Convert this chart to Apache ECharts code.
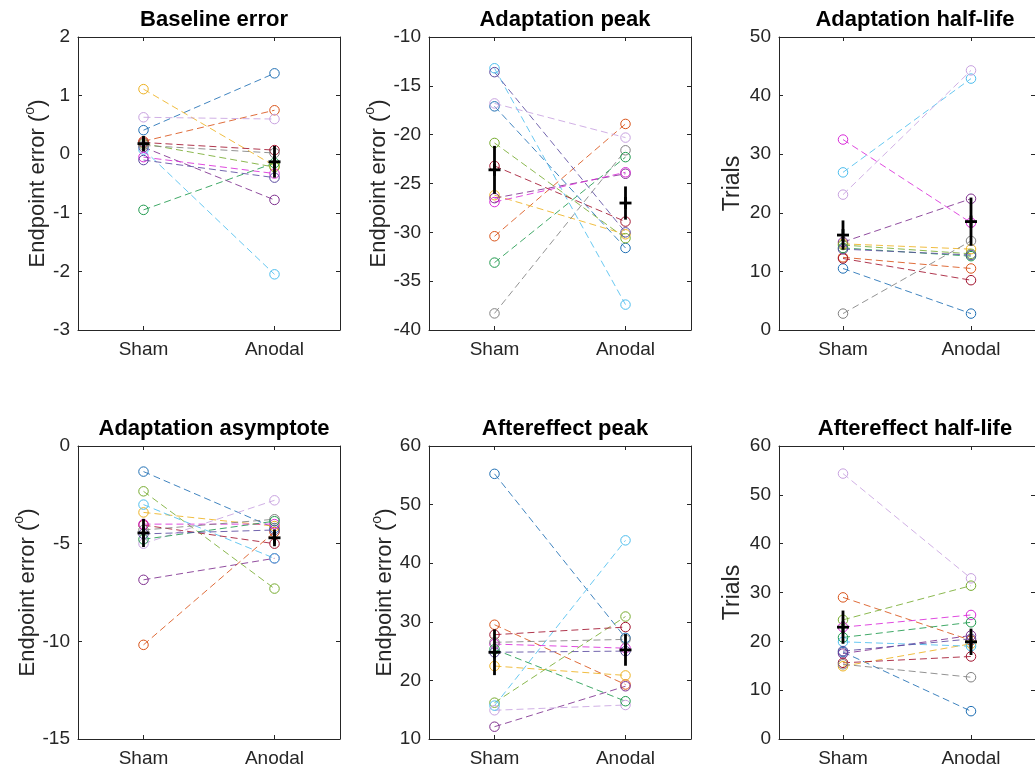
<!DOCTYPE html>
<html>
<head>
<meta charset="utf-8">
<script src="https://cdn.jsdelivr.net/npm/echarts@6/dist/echarts.min.js"></script>
<style>
  html, body { margin: 0; padding: 0; background: #fff; }
  #chart { width: 1035px; height: 771px; }
</style>
</head>
<body>
<div id="chart"></div>
<script>
// Conditions on the x axis
const conditions = ['Sham', 'Anodal'];

// One colour per participant (same order in every value array)
const subjectColors = [
  '#1f6fb4', '#d95319', '#edb120', '#7e2f8e', '#77ac30', '#4dbeee',
  '#a2142f', '#c8a2e0', '#d92bd9', '#808080', '#209a4e', '#5a4aa0'
];

const panelTitles = [
  'Baseline error', 'Adaptation peak', 'Adaptation half-life',
  'Adaptation asymptote', 'Aftereffect peak', 'Aftereffect half-life'
];
const panelUnits = ['deg', 'deg', 'trials', 'deg', 'deg', 'trials'];

// Axis limits and tick steps
const yMin  = [-3, -40, 0, -15, 10, 0];
const yMax  = [2, -10, 50, 0, 60, 60];
const yStep = [1, 5, 10, 5, 10, 10];

// Baseline error
const baselineSham   = [0.41, 0.22, 1.11, 0.12, 0.18, 0.08, 0.20, 0.63, -0.05, 0.15, -0.95, -0.10];
const baselineAnodal = [1.38, 0.75, -0.20, -0.78, -0.22, -2.05, 0.07, 0.60, -0.33, 0.02, -0.15, -0.40];
const baselineMean = [0.18, -0.13];
const baselineSem  = [0.13, 0.27];

// Adaptation peak
const adaptPeakSham   = [-17.1, -30.4, -26.2, -26.5, -20.85, -13.2, -23.2, -16.8, -26.9, -38.3, -33.1, -13.6];
const adaptPeakAnodal = [-31.6, -18.9, -30.2, -24.0, -30.6, -37.4, -28.9, -20.3, -23.85, -21.6, -22.3, -30.0];
const adaptPeakMean = [-23.6, -27.0];
const adaptPeakSem  = [2.45, 1.7];

// Adaptation half-life
const adaptHalfSham   = [10.5, 12.4, 14.7, 15.0, 14.5, 26.9, 12.2, 23.1, 32.5, 2.8, 14.0, 13.8];
const adaptHalfAnodal = [2.8, 10.5, 13.8, 22.4, 13.0, 42.9, 8.5, 44.3, 18.3, 15.2, 12.6, 12.8];
const adaptHalfMean = [16.2, 18.5];
const adaptHalfSem  = [2.5, 4.1];

// Adaptation asymptote
const asymSham   = [-1.31, -10.18, -3.4, -6.85, -2.32, -3.0, -4.05, -5.0, -4.0, -4.3, -4.78, -4.5];
const asymAnodal = [-4.2, -4.4, -4.1, -5.75, -7.3, -5.75, -5.0, -2.78, -4.0, -3.75, -3.85, -4.3];
const asymMean = [-4.45, -4.7];
const asymSem  = [0.72, 0.43];

// Aftereffect peak
const aftPeakSham   = [55.25, 29.5, 22.45, 12.1, 16.2, 15.7, 27.8, 14.9, 26.2, 26.5, 25.3, 24.8];
const aftPeakAnodal = [27.25, 19.3, 20.85, 19.0, 30.9, 43.9, 29.1, 15.8, 25.5, 27.0, 16.45, 25.0];
const aftPeakMean = [24.8, 25.2];
const aftPeakSem  = [3.9, 2.7];

// Aftereffect half-life
const aftHalfSham   = [17.8, 29.0, 14.9, 17.5, 24.4, 19.9, 15.6, 54.35, 22.9, 15.3, 20.8, 18.0];
const aftHalfAnodal = [5.7, 20.2, 19.5, 21.2, 31.4, 19.0, 16.9, 32.9, 25.4, 12.65, 23.9, 20.5];
const aftHalfMean = [22.9, 19.9];
const aftHalfSem  = [3.4, 2.7];

const panels = [
  { sham: baselineSham,  anodal: baselineAnodal,  mean: baselineMean,  sem: baselineSem },
  { sham: adaptPeakSham, anodal: adaptPeakAnodal, mean: adaptPeakMean, sem: adaptPeakSem },
  { sham: adaptHalfSham, anodal: adaptHalfAnodal, mean: adaptHalfMean, sem: adaptHalfSem },
  { sham: asymSham,      anodal: asymAnodal,      mean: asymMean,      sem: asymSem },
  { sham: aftPeakSham,   anodal: aftPeakAnodal,   mean: aftPeakMean,   sem: aftPeakSem },
  { sham: aftHalfSham,   anodal: aftHalfAnodal,   mean: aftHalfMean,   sem: aftHalfSem }
];

// Layout of the 2 x 3 axes (the third column runs past the right edge)
const FONT = '"Liberation Sans", Arial, Helvetica, sans-serif';
const AXIS_COLOR = '#262626';
const colLeft = [78, 429, 779];
const rowTop = [37, 446];
const plotW = 262;
const plotH = 293;
const nameGaps = [27, 34, 35, 27, 31, 35];

const chart = echarts.init(document.getElementById('chart'), null, { renderer: 'canvas' });

const grid = [], xAxis = [], yAxis = [], series = [], title = [];

const errorRichName = {
  t: { fontSize: 22, fontFamily: FONT, color: AXIS_COLOR, verticalAlign: 'bottom', lineHeight: 26 },
  s: { fontSize: 14, fontFamily: FONT, color: AXIS_COLOR, verticalAlign: 'top', lineHeight: 26 }
};

panels.forEach((p, i) => {
  const col = i % 3, row = Math.floor(i / 3);
  const left = colLeft[col], top = rowTop[row];
  const g = { left: left, top: top, height: plotH, containLabel: false };
  if (col === 2) g.right = 1035 - (left + plotW); else g.width = plotW;
  grid.push(g);

  title.push({
    text: panelTitles[i],
    left: left + plotW / 2,
    top: top - 33,
    textAlign: 'center',
    textStyle: { fontFamily: FONT, fontSize: 22, fontWeight: 'bold', color: '#000' }
  });

  const tick = { show: true, inside: true, length: 4, alignWithLabel: true, lineStyle: { color: AXIS_COLOR, width: 1 } };
  const line = { show: true, onZero: false, lineStyle: { color: AXIS_COLOR, width: 1 } };

  xAxis.push({
    gridIndex: i, type: 'category', data: conditions, position: 'bottom', boundaryGap: true,
    axisLine: line, axisTick: tick,
    axisLabel: { fontFamily: FONT, fontSize: 19, color: AXIS_COLOR, margin: 10 },
    splitLine: { show: false }
  });
  xAxis.push({
    gridIndex: i, type: 'category', data: conditions, position: 'top', boundaryGap: true,
    axisLine: line, axisTick: tick, axisLabel: { show: false }, splitLine: { show: false }
  });

  const isTrials = panelUnits[i] === 'trials';
  yAxis.push({
    gridIndex: i, type: 'value', position: 'left',
    min: yMin[i], max: yMax[i], interval: yStep[i],
    axisLine: line, axisTick: Object.assign({}, tick, { alignWithLabel: false }),
    axisLabel: { fontFamily: FONT, fontSize: 19, color: AXIS_COLOR, margin: 8 },
    splitLine: { show: false },
    name: isTrials ? 'Trials' : '{t|Endpoint error (}{s|o}{t|)}',
    nameLocation: 'middle',
    nameGap: nameGaps[i],
    nameTextStyle: isTrials
      ? { fontFamily: FONT, fontSize: 23, color: AXIS_COLOR }
      : { rich: errorRichName }
  });
  yAxis.push({
    gridIndex: i, type: 'value', position: 'right',
    min: yMin[i], max: yMax[i], interval: yStep[i],
    axisLine: line, axisTick: Object.assign({}, tick, { alignWithLabel: false }),
    axisLabel: { show: false }, splitLine: { show: false }
  });

  // One dashed line with open circles per participant
  p.sham.forEach((v, s) => {
    const c = subjectColors[s];
    series.push({
      type: 'line',
      xAxisIndex: 2 * i, yAxisIndex: 2 * i,
      data: [v, p.anodal[s]],
      symbol: 'circle', symbolSize: 9.5,
      itemStyle: { color: 'rgba(0,0,0,0)', borderColor: c, borderWidth: 1 },
      lineStyle: { color: c, width: 1, type: [7, 4], opacity: 0.85 },
      emphasis: { disabled: true },
      silent: true, z: 2
    });
  });

  // Group mean with standard-error bar, drawn as a bold '+'
  series.push({
    type: 'custom',
    xAxisIndex: 2 * i, yAxisIndex: 2 * i,
    data: p.mean.map((m, k) => [k, m, p.sem[k]]),
    encode: { x: 0, y: 1 },
    renderItem: (params, api) => {
      const x = api.value(0), m = api.value(1), e = api.value(2);
      const c = api.coord([x, m]);
      const hi = api.coord([x, m + e]);
      const lo = api.coord([x, m - e]);
      const st = { stroke: '#000', lineWidth: 2.8 };
      return {
        type: 'group',
        children: [
          { type: 'line', shape: { x1: c[0], y1: hi[1], x2: c[0], y2: lo[1] }, style: st },
          { type: 'line', shape: { x1: c[0], y1: c[1] - 6, x2: c[0], y2: c[1] + 6 }, style: st },
          { type: 'line', shape: { x1: c[0] - 6, y1: c[1], x2: c[0] + 6, y2: c[1] }, style: st }
        ]
      };
    },
    silent: true, z: 10
  });
});

chart.setOption({
  animation: false,
  backgroundColor: '#fff',
  title: title,
  grid: grid,
  xAxis: xAxis,
  yAxis: yAxis,
  series: series
});
</script>
</body>
</html>
